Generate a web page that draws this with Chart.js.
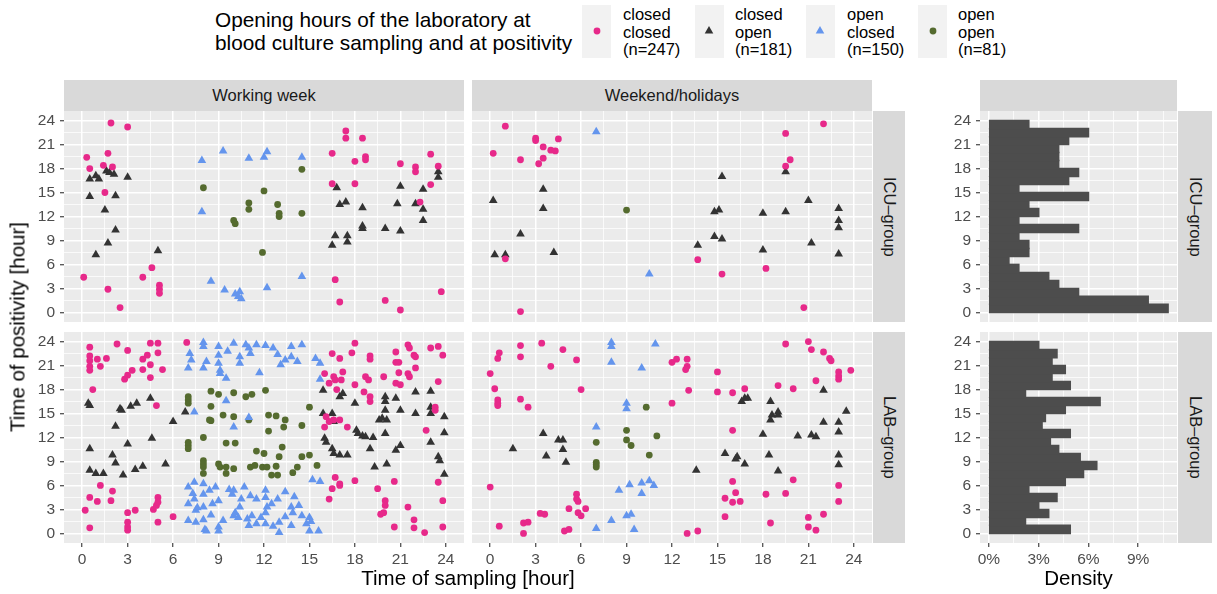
<!DOCTYPE html>
<html>
<head>
<meta charset="utf-8">
<script src="https://cdn.jsdelivr.net/npm/chart.js@4.4.1/dist/chart.umd.min.js"></script>
<style>
body { margin: 0; background: #fff; font-family: "Liberation Sans", Arial, sans-serif; }
#page { position: relative; width: 1217px; height: 594px; overflow: hidden; }
canvas { position: absolute; }
.txt { position: absolute; white-space: nowrap; }
.strip { position: absolute; background: #d9d9d9; color: #1a1a1a; font-size: 16.5px;
         display: flex; align-items: center; justify-content: center; }
.vstrip { writing-mode: vertical-rl; }
.key { position: absolute; background: #f2f2f2; top: 5px; width: 29px; height: 53px; }
.keytxt { position: absolute; top: 6px; font-size: 16.5px; line-height: 17.5px; color: #000; }
</style>
</head>
<body>
<div id="page">
  <div class="txt" style="left:215px;top:9px;font-size:20.8px;line-height:22.5px;">Opening hours of the laboratory at<br>blood culture sampling and at positivity</div>
  <div class="key" style="left:582px"></div>
  <div class="key" style="left:695px"></div>
  <div class="key" style="left:806px"></div>
  <div class="key" style="left:918px"></div>
  <svg style="position:absolute;left:0;top:0" width="1217" height="70">
    <circle cx="597" cy="31" r="3.4" fill="#E7298A"/>
    <polygon points="709,26 713.3,33.5 704.7,33.5" fill="#333333"/>
    <polygon points="820,26 824.3,33.5 815.7,33.5" fill="#6495ED"/>
    <circle cx="933" cy="31" r="3.4" fill="#556B2F"/>
  </svg>
  <div class="keytxt" style="left:623px">closed<br>closed<br>(n=247)</div>
  <div class="keytxt" style="left:735px">closed<br>open<br>(n=181)</div>
  <div class="keytxt" style="left:847px">open<br>closed<br>(n=150)</div>
  <div class="keytxt" style="left:958px">open<br>open<br>(n=81)</div>

  <div class="strip" style="left:64px;top:80px;width:400px;height:31px;">Working week</div>
  <div class="strip" style="left:472px;top:80px;width:400px;height:31px;">Weekend/holidays</div>
  <div class="strip" style="left:980px;top:80px;width:197px;height:31px;"></div>
  <div class="strip vstrip" style="left:873px;top:111px;width:32px;height:211px;">ICU–group</div>
  <div class="strip vstrip" style="left:873px;top:332px;width:32px;height:211px;">LAB–group</div>
  <div class="strip vstrip" style="left:1178px;top:111px;width:34px;height:211px;">ICU–group</div>
  <div class="strip vstrip" style="left:1178px;top:332px;width:34px;height:211px;">LAB–group</div>

  <canvas id="tl" width="464" height="211" style="left:0;top:111px"></canvas>
  <canvas id="tr" width="400" height="211" style="left:472px;top:111px"></canvas>
  <canvas id="bl" width="464" height="245" style="left:0;top:332px"></canvas>
  <canvas id="br" width="400" height="245" style="left:472px;top:332px"></canvas>
  <canvas id="ht" width="257" height="211" style="left:920px;top:111px"></canvas>
  <canvas id="hb" width="257" height="245" style="left:920px;top:332px"></canvas>

  <div class="txt" style="left:64px;top:566px;width:808px;text-align:center;font-size:20.5px;line-height:24px;">Time of sampling [hour]</div>
  <div class="txt" style="left:980px;top:566px;width:197px;text-align:center;font-size:20.5px;line-height:24px;">Density</div>
  <div class="txt" style="left:-198px;top:315px;width:431px;height:24px;text-align:center;font-size:20.5px;line-height:24px;transform:rotate(-90deg);">Time of positivity [hour]</div>
</div>

<script>
// groups: lab status at sampling / at positivity
let groups = ['closed closed', 'closed open', 'open closed', 'open open'];
let groupCounts = [247, 181, 150, 81];
let groupColors = ['#E7298A', '#333333', '#6495ED', '#556B2F'];
let groupShapes = ['circle', 'triangle', 'triangle', 'circle'];

let hourTicks = [0, 3, 6, 9, 12, 15, 18, 21, 24];
let hourGrid = [0, 1.5, 3, 4.5, 6, 7.5, 9, 10.5, 12, 13.5, 15, 16.5, 18, 19.5, 21, 22.5, 24];
let densityTicks = [0, 3, 6, 9];
let densityGrid = [0, 1.5, 3, 4.5, 6, 7.5, 9, 10.5];

// [time of sampling, time of positivity]
// working week, ICU-group
let wkIcuCC = [[0.1,4.4],[0.3,19.4],[0.5,18.0],[1.9,23.7],[1.7,19.9],[1.4,18.4],[2.0,18.2],[1.5,15.0],[1.7,2.9],[2.5,0.6],[3.0,23.2],[4.0,4.4],[4.6,5.6],[5.1,3.4],[5.1,2.9],[5.1,2.4],[16.5,19.9],[16.5,16.1],[17.4,22.7],[17.4,21.8],[18.0,18.9],[18.0,16.1],[18.5,21.8],[18.7,19.5],[18.7,19.1],[16.7,4.1],[17.0,1.3],[20.0,1.5],[21.0,0.3],[21.0,18.6],[22.0,18.2],[22.0,17.6],[22.3,13.8],[23.0,19.8],[23.0,16.0],[23.5,18.3],[23.7,2.6]];
let wkIcuCO = [[0.5,16.7],[0.9,17.1],[1.1,16.7],[1.6,17.7],[1.8,17.5],[2.1,17.3],[3.0,16.9],[0.5,14.5],[2.2,14.6],[1.5,12.8],[2.2,10.3],[1.7,8.7],[0.9,7.2],[5.0,7.7],[16.8,15.6],[17.0,13.5],[17.4,13.8],[18.5,13.1],[18.5,10.8],[18.5,10.5],[16.5,8.4],[16.7,9.6],[17.5,9.6],[17.5,8.8],[20.0,10.5],[21.0,10.2],[21.0,15.8],[20.8,13.6],[22.0,13.6],[22.5,15.4],[22.5,12.9],[22.5,11.5],[23.5,17.6],[23.5,16.9]];
let wkIcuOC = [[7.9,19.0],[9.3,20.2],[11.0,19.3],[12.0,19.4],[12.2,20.1],[14.5,19.4],[7.9,12.6],[8.5,3.9],[9.4,2.8],[10.1,2.3],[10.4,2.6],[10.5,1.7],[10.3,2.0],[12.2,3.1],[14.5,4.5]];
let wkIcuOO = [[8.0,15.6],[10.0,11.5],[10.1,11.1],[11.0,13.7],[11.0,12.9],[12.0,15.2],[11.9,7.5],[12.9,13.5],[13.0,12.4],[13.0,12.0],[14.5,17.9],[14.5,12.4]];

// weekend/holidays, ICU-group
let weIcuCC = [[1.0,23.3],[0.2,19.9],[2.0,19.1],[3.0,21.8],[3.0,21.5],[3.5,20.7],[4.0,20.3],[4.3,20.2],[4.5,21.7],[3.5,19.3],[3.2,18.6],[1.0,6.7],[2.0,0.1],[13.7,6.6],[15.3,4.8],[18.2,5.5],[19.5,22.4],[19.8,19.1],[19.5,18.3],[22.0,23.6],[20.7,0.6]];
let weIcuCO = [[0.2,14.0],[0.3,7.2],[1.0,7.2],[2.0,9.8],[3.5,15.4],[3.5,13.0],[4.2,7.5],[13.7,8.4],[14.8,9.5],[15.1,12.8],[14.8,12.6],[15.3,9.2],[15.3,17.0],[18.0,12.4],[18.0,7.8],[19.5,17.6],[19.5,12.6],[21.0,14.0],[21.2,8.7],[23.0,13.0],[23.0,11.5],[23.0,10.6],[23.0,7.3]];
let weIcuOC = [[7.0,22.6],[10.5,4.8]];
let weIcuOO = [[9.0,12.8]];

// working week, LAB-group
let wkLabCC = [[0.5,23.3],[0.5,22.2],[0.5,21.6],[0.5,20.9],[0.5,20.4],[1.0,21.8],[1.2,20.9],[1.6,21.9],[0.7,18.0],[2.3,23.7],[3.0,22.9],[3.0,19.8],[2.8,19.3],[3.3,20.4],[4.0,20.5],[4.0,21.8],[4.3,22.3],[4.5,21.1],[4.5,19.5],[4.5,23.8],[5.0,23.8],[5.0,22.6],[5.3,20.5],[4.9,16.0],[6.9,23.9],
  [0.2,2.9],[0.5,0.7],[0.5,4.5],[1.0,4.0],[1.2,6.0],[1.9,4.1],[2.0,5.3],[3.0,2.6],[3.0,1.4],[3.0,0.8],[3.0,0.4],[3.5,2.9],[4.7,3.0],[4.9,3.5],[5.0,4.5],[5.0,3.9],[5.0,1.4],[6.0,2.1],
  [16.3,4.3],[16.5,5.6],[16.7,7.0],[17.0,6.2],[17.0,6.0],[16.0,20.0],[16.3,18.8],[16.5,22.5],[16.6,19.6],[16.7,19.2],[16.8,18.0],[17.0,21.9],[17.1,19.2],[17.2,20.2],[16.1,14.6],[16.0,13.3],[16.3,14.0],[16.6,14.2],[17.0,14.2],[17.5,13.3],[18.0,23.8],[17.8,22.6],[18.0,18.6],[18.0,6.6],[18.6,17.7],[18.7,19.6],[19.0,22.2],[19.0,21.8],[18.9,19.2],[19.0,17.1],[19.0,16.5],[19.5,5.6],[19.7,2.4],[19.9,2.6],[20.0,4.1],[20.0,3.5],[19.9,19.6],[20.6,6.5],[20.6,0.8],[20.7,22.7],[20.7,21.4],[20.9,21.4],[20.9,20.1],[20.7,18.8],[21.0,18.6],[21.5,23.6],[21.6,23.2],[21.9,22.3],[22.0,22.1],[21.5,20.0],[22.0,20.7],[21.6,19.6],[21.5,3.3],[21.9,1.7],[21.9,0.7],[22.6,0.1],[22.7,12.9],[23.0,23.2],[23.5,23.4],[23.8,22.3],[23.5,19.0],[23.3,15.8],[23.3,15.4],[23.5,6.4],[23.8,4.1],[23.8,0.8]];
let wkLabCO = [[0.4,16.3],[0.5,16.0],[0.5,10.6],[0.5,7.9],[0.9,7.5],[1.4,7.5],[2.0,9.8],[2.2,8.8],[2.2,13.4],[2.5,15.6],[2.6,15.4],[3.0,11.2],[2.7,7.3],[3.2,15.9],[3.6,16.3],[3.5,8.0],[4.0,8.4],[4.5,16.9],[4.6,11.9],[5.5,8.7],[6.0,14.0],[6.8,15.2],
  [15.9,17.9],[15.9,15.0],[16.0,11.9],[16.1,11.4],[16.5,15.0],[16.6,14.0],[16.5,10.6],[16.6,10.0],[17.0,17.1],[17.2,17.5],[17.0,9.8],[17.5,9.8],[18.0,16.3],[18.1,12.9],[18.2,12.5],[18.5,12.2],[18.7,12.1],[19.0,10.6],[19.2,12.0],[19.3,8.3],[19.6,14.2],[19.8,14.4],[20.0,17.1],[20.0,16.5],[20.0,15.4],[20.0,12.5],[20.1,8.7],[20.1,14.2],[20.7,16.9],[21.0,15.4],[21.0,11.0],[20.7,10.4],[22.0,17.7],[22.0,15.0],[23.0,17.8],[23.0,15.8],[23.0,15.0],[23.0,11.4],[23.5,9.6],[23.6,9.1],[23.9,14.6],[23.9,12.6],[23.9,7.4]];
let wkLabOC = [[7.1,22.5],[7.2,21.7],[7.0,20.7],[8.0,23.9],[8.0,23.4],[8.2,21.5],[8.0,20.7],[9.0,23.4],[9.0,22.3],[9.0,21.3],[9.1,20.4],[9.1,20.0],[9.5,19.4],[10.0,23.8],[10.4,22.1],[10.4,21.3],[10.8,23.6],[11.1,22.5],[11.0,23.2],[11.7,20.1],[12.1,23.5],[12.6,23.2],[13.1,21.1],[13.4,21.7],[13.8,22.1],[14.5,23.6],[13.8,23.4],[15.4,21.9],[15.7,21.3],[15.7,19.3],[9.6,22.8],[11.5,23.6],[12.9,22.4],[14.2,21.5],
  [7.4,15.2],[9.5,16.6],[10.0,13.3],[11.0,14.5],[15.2,6.7],[15.7,6.5],
  [7.0,5.8],[7.0,3.7],[7.0,1.6],[7.4,6.4],[7.4,4.3],[7.5,2.9],[7.5,1.4],[8.0,6.2],[8.0,4.9],[8.0,3.3],[8.0,1.7],[8.1,0.5],[8.2,0.3],[8.4,5.4],[9.0,4.1],[9.0,0.8],[9.0,0.3],[9.7,5.5],[9.9,4.9],[10.0,5.4],[10.0,2.2],[10.1,2.6],[10.3,2.0],[10.5,4.3],[10.7,5.8],[11.0,1.0],[11.5,1.2],[11.5,4.3],[12.1,5.4],[12.1,4.5],[12.1,2.6],[12.2,3.3],[12.5,3.7],[12.1,1.2],[12.9,4.3],[13.0,1.4],[13.0,0.1],[13.4,5.2],[13.8,3.3],[13.9,2.6],[13.8,1.0],[14.3,3.5],[14.5,2.2],[14.8,1.2],[15.0,2.0],[15.1,1.5],[15.0,0.3],[15.6,0.3],[8.6,3.7],[11.2,2.2],
  [7.6,3.2],[8.5,2.3],[9.3,1.6],[10.4,3.3],[11.1,4.7],[11.8,2.0],[12.6,0.9],[13.4,2.1],[14.0,4.6],[7.3,5.0],[8.8,5.8],[10.9,1.8]];
let wkLabOO = [[7.0,17.1],[7.0,16.7],[7.0,16.3],[7.0,11.0],[7.0,10.6],[7.0,11.4],[8.0,12.0],[8.0,9.1],[8.0,8.7],[8.0,7.5],[8.0,8.3],[8.5,17.8],[8.5,15.9],[8.5,14.1],[8.4,14.2],[9.0,17.4],[9.3,14.8],[9.0,8.7],[9.1,8.3],[9.5,8.3],[9.5,7.5],[9.5,11.3],[10.0,17.6],[10.0,14.6],[10.1,11.3],[10.0,8.1],[10.8,17.1],[11.2,17.4],[11.0,14.2],[11.1,8.3],[11.4,8.5],[11.5,10.3],[12.1,17.9],[12.0,10.0],[11.9,8.3],[12.2,8.3],[12.3,12.8],[12.3,14.8],[12.8,14.7],[12.5,7.3],[12.8,8.4],[12.9,7.3],[13.0,9.6],[13.2,10.8],[13.4,14.2],[13.3,13.3],[13.9,7.6],[14.2,8.3],[14.5,9.6],[14.5,13.5],[15.0,15.8],[15.0,9.8],[15.5,8.5]];

// weekend/holidays, LAB-group
let weLabCC = [[2.0,23.5],[3.4,23.8],[0.6,22.6],[0.5,21.9],[2.0,22.1],[4.8,23.0],[5.7,21.7],[4.0,20.9],[0.0,20.0],[0.3,18.1],[0.5,16.7],[0.5,16.3],[0.5,16.0],[2.0,16.8],[2.5,15.8],[6.0,18.0],[0.0,5.8],[0.6,0.9],[2.2,1.3],[2.5,1.4],[2.2,0.0],[3.3,2.5],[3.6,2.4],[5.2,3.1],[5.7,4.9],[5.7,4.3],[5.8,4.0],[5.8,2.6],[6.0,2.2],[6.3,3.1],[4.9,0.3],[5.2,0.5],
  [12.0,16.3],[12.0,21.4],[12.3,21.8],[13.0,21.8],[13.0,20.9],[12.9,20.5],[13.1,17.9],[15.0,20.2],[15.0,17.7],[16.0,17.6],[16.8,18.1],[16.0,12.9],[16.0,6.5],[15.5,4.4],[16.2,5.1],[16.0,3.9],[16.5,4.0],[15.5,2.1],[13.0,0.0],[13.7,0.3],
  [19.5,23.7],[21.0,24.0],[21.2,23.0],[22.0,22.7],[22.4,21.9],[22.5,21.6],[23.0,20.2],[23.0,19.7],[23.0,19.3],[23.8,20.4],[19.0,18.5],[20.0,18.1],[21.5,19.1],[18.2,4.9],[19.5,5.0],[20.0,6.7],[23.0,6.0],[23.0,4.0],[18.5,1.3],[21.0,2.0],[22.0,2.4],[21.0,0.8],[21.5,0.4]];
let weLabCO = [[1.5,10.6],[3.5,12.5],[3.7,9.7],[4.5,11.7],[4.8,11.7],[4.8,10.5],[5.0,8.9],[13.6,7.9],[15.5,10.0],[16.2,9.3],[16.3,9.6],[16.8,8.7],[16.6,16.5],[16.8,16.9],[17.0,16.9],[18.5,16.5],[18.5,14.2],[18.6,14.8],[19.0,15.2],[19.0,14.8],[18.0,12.4],[18.4,9.8],[19.0,7.8],[20.3,12.2],[21.2,12.3],[21.5,12.1],[22.0,13.9],[22.0,17.9],[23.0,13.9],[23.0,12.7],[23.0,9.8],[23.0,8.6],[23.5,15.3]];
let weLabOC = [[8.0,23.9],[8.0,23.4],[10.9,23.7],[8.0,21.4],[10.0,20.7],[9.0,16.3],[9.0,15.6],[7.0,13.3],[8.5,5.4],[9.2,6.1],[10.0,6.3],[10.5,6.6],[10.8,6.0],[10.0,5.0],[9.0,2.2],[9.3,2.4],[8.0,1.6],[7.0,0.6],[9.5,0.5]];
let weLabOO = [[10.3,15.8],[9.0,12.9],[11.0,12.2],[7.0,11.4],[9.0,11.7],[9.3,11.0],[10.5,9.8],[7.0,8.9],[7.0,8.6],[7.0,8.3]];

// histogram of time of positivity, 1-hour bins, density in %
let binStart = [0,1,2,3,4,5,6,7,8,9,10,11,12,13,14,15,16,17,18,19,20,21,22,23];
let icuDensity = [10.8,9.6,5.4,4.2,3.6,1.8,1.2,2.4,2.4,1.8,5.4,1.8,3.0,2.4,6.0,1.8,4.8,5.4,4.2,4.2,4.2,4.8,6.0,2.4];
let labDensity = [4.9,2.2,3.6,3.0,4.1,2.4,4.6,5.7,6.5,5.5,4.2,3.7,4.9,3.2,3.4,4.6,6.7,2.2,4.9,3.8,4.6,3.8,4.1,3.0];

let FONT = '"Liberation Sans", Arial, sans-serif';

let isMajor = (v, list) => list.indexOf(v) !== -1;

let panelBg = {
    id: 'panelBg',
    beforeDraw: (chart) => {
        let a = chart.chartArea;
        let ctx = chart.ctx;
        ctx.save();
        ctx.fillStyle = '#ebebeb';
        ctx.fillRect(a.left, a.top, a.right - a.left, a.bottom - a.top);
        ctx.restore();
    }
};

let makeAxis = (horizontal, show, size, min, max, grid, ticks, suffix) => {
    return {
        type: 'linear',
        min: min,
        max: max,
        offset: false,
        border: { display: false },
        afterBuildTicks: (s) => { s.ticks = grid.map(v => ({ value: v })); },
        afterFit: (s) => {
            if (horizontal) s.height = size; else s.width = size;
            s.paddingTop = 0; s.paddingBottom = 0; s.paddingLeft = 0; s.paddingRight = 0;
        },
        grid: {
            offset: false,
            color: '#ffffff',
            lineWidth: (c) => (c.tick && isMajor(c.tick.value, ticks)) ? 1.5 : 0.75,
            drawTicks: show,
            tickLength: 4,
            tickWidth: 1.1,
            tickColor: (c) => (c.tick && isMajor(c.tick.value, ticks)) ? '#333333' : 'rgba(0,0,0,0)'
        },
        ticks: {
            display: show,
            autoSkip: false,
            maxRotation: 0,
            padding: horizontal ? 3 : 5,
            color: '#4d4d4d',
            font: { family: FONT, size: 15.5 },
            callback: (v) => isMajor(v, ticks) ? v + suffix : ''
        }
    };
}

let makeScatter = (id, sets, showX, showY) => {
    return new Chart(document.getElementById(id), {
        type: 'scatter',
        data: {
            datasets: sets.map((s, i) => ({
                label: groups[i],
                data: s.map(p => ({ x: p[0], y: p[1] })),
                pointStyle: groupShapes[i],
                pointRadius: groupShapes[i] === 'triangle' ? 5 : 3.4,
                backgroundColor: groupColors[i],
                borderColor: groupColors[i],
                borderWidth: 0
            }))
        },
        options: {
            responsive: false,
            animation: false,
            events: [],
            layout: { padding: 0, autoPadding: false },
            plugins: { legend: { display: false }, tooltip: { enabled: false } },
            scales: {
                x: makeAxis(true, showX, showX ? 34 : 0, -1.2, 25.2, hourGrid, hourTicks, ''),
                y: makeAxis(false, showY, showY ? 64 : 0, -1.2, 25.2, hourGrid, hourTicks, '')
            }
        },
        plugins: [panelBg]
    });
}

let makeHist = (id, density, showX) => {
    return new Chart(document.getElementById(id), {
        type: 'bar',
        data: {
            datasets: [{
                data: density.map((d, i) => ({ x: d, y: binStart[i] + 0.5 })),
                backgroundColor: '#4d4d4d',
                borderWidth: 0,
                inflateAmount: 0.8,
                barPercentage: 1,
                categoryPercentage: 1
            }]
        },
        options: {
            indexAxis: 'y',
            responsive: false,
            animation: false,
            events: [],
            layout: { padding: 0, autoPadding: false },
            plugins: { legend: { display: false }, tooltip: { enabled: false } },
            scales: {
                x: makeAxis(true, showX, showX ? 34 : 0, -0.54, 11.34, densityGrid, densityTicks, '%'),
                y: makeAxis(false, true, 60, -1.2, 25.2, hourGrid, hourTicks, '')
            }
        },
        plugins: [panelBg]
    });
}

makeScatter('tl', [wkIcuCC, wkIcuCO, wkIcuOC, wkIcuOO], false, true);
makeScatter('tr', [weIcuCC, weIcuCO, weIcuOC, weIcuOO], false, false);
makeScatter('bl', [wkLabCC, wkLabCO, wkLabOC, wkLabOO], true, true);
makeScatter('br', [weLabCC, weLabCO, weLabOC, weLabOO], true, false);
makeHist('ht', icuDensity, false);
makeHist('hb', labDensity, true);
</script>
</body>
</html>
